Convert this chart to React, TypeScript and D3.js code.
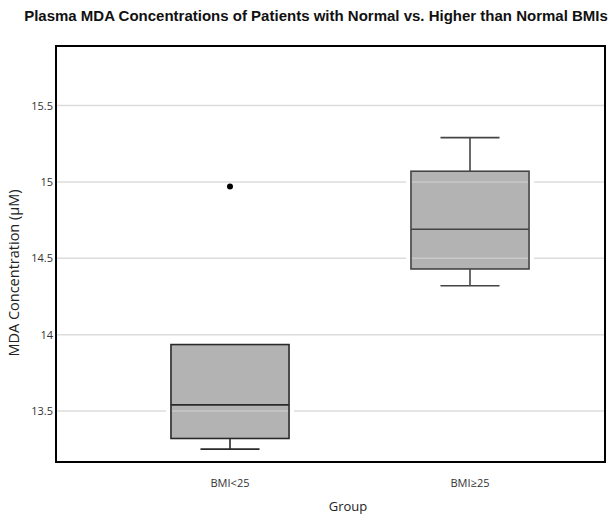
import React from "react";
import * as d3 from "d3";

// Groups and their box-plot summaries (µM)
const groups = ["BMI<25", "BMI≥25"];
const q1 = [13.32, 14.43];
const median = [13.54, 14.69];
const q3 = [13.935, 15.07];
const whiskerLow = [13.25, 14.32];
const whiskerHigh = [13.935, 15.29];
const outliers: [string, number][] = [["BMI<25", 14.97]];

const yTicks = [13.5, 14, 14.5, 15, 15.5];
const yDomain: [number, number] = [13.166, 15.89];

const title = "Plasma MDA Concentrations of Patients with Normal vs. Higher than Normal BMIs";
const yTitle = "MDA Concentration (µM)";
const xTitle = "Group";

const W = 613;
const H = 516;
const plot = { left: 56, right: 605, top: 46, bottom: 462 };
const sans = "'Open Sans', 'Noto Sans', sans-serif";

export default function App() {
  const y = d3.scaleLinear().domain(yDomain).range([plot.bottom, plot.top]);
  const x = d3
    .scaleBand<string>()
    .domain(groups)
    .range([110, 590])
    .paddingInner(0.508)
    .paddingOuter(0.254);
  const bw = x.bandwidth();
  const gap = 5;

  // gridline segments skip the area right around each box
  const gridSegments = (v: number) => {
    const yy = y(v);
    const segs: [number, number][] = [];
    let start = plot.left;
    groups.forEach((g, i) => {
      const x0 = x(g)!;
      const x1 = x0 + bw;
      if (yy >= y(q3[i]) - gap && yy <= y(q1[i]) + gap) {
        segs.push([start, x0 - gap]);
        start = x1 + gap;
      }
    });
    segs.push([start, plot.right]);
    return segs;
  };

  return (
    <svg
      width={W}
      height={H}
      style={{ position: "absolute", left: 0, top: 0, display: "block", background: "#fff" }}
    >
      <text
        x={316}
        y={21}
        textAnchor="middle"
        fontFamily="'Liberation Sans', Arial, sans-serif"
        fontWeight="bold"
        fontSize={15}
        fill="#111"
      >
        {title}
      </text>

      {/* gridlines */}
      {yTicks.map((t) =>
        gridSegments(t).map(([a, b], k) => (
          <line key={`${t}-${k}`} x1={a} x2={b} y1={y(t)} y2={y(t)} stroke="#dcdcdc" strokeWidth={1.5} />
        ))
      )}

      {/* boxes */}
      {groups.map((g, i) => {
        const x0 = x(g)!;
        const cx = x0 + bw / 2;
        const capW = bw / 2;
        const stroke = i === 0 ? "#2a2a2a" : "#444";
        return (
          <g key={g}>
            {whiskerHigh[i] > q3[i] && (
              <>
                <line x1={cx} x2={cx} y1={y(q3[i])} y2={y(whiskerHigh[i])} stroke={stroke} strokeWidth={1.6} />
                <line x1={cx - capW / 2} x2={cx + capW / 2} y1={y(whiskerHigh[i])} y2={y(whiskerHigh[i])} stroke={stroke} strokeWidth={1.6} />
              </>
            )}
            <line x1={cx} x2={cx} y1={y(q1[i])} y2={y(whiskerLow[i])} stroke={stroke} strokeWidth={1.6} />
            <line x1={cx - capW / 2} x2={cx + capW / 2} y1={y(whiskerLow[i])} y2={y(whiskerLow[i])} stroke={stroke} strokeWidth={1.6} />
            <rect
              x={x0}
              y={y(q3[i])}
              width={bw}
              height={y(q1[i]) - y(q3[i])}
              fill="#b3b3b3"
              stroke={stroke}
              strokeWidth={1.6}
            />
            {/* faint gridlines through the box */}
            {yTicks
              .filter((t) => t > q1[i] && t < q3[i])
              .map((t) => (
                <line key={t} x1={x0 + 1} x2={x0 + bw - 1} y1={y(t)} y2={y(t)} stroke="#c9c9c9" strokeWidth={1.5} />
              ))}
            <line x1={x0} x2={x0 + bw} y1={y(median[i])} y2={y(median[i])} stroke={stroke} strokeWidth={1.6} />
          </g>
        );
      })}

      {/* outliers */}
      {outliers.map(([g, v], k) => (
        <circle key={k} cx={x(g)! + bw / 2} cy={y(v)} r={3} fill="#000" />
      ))}

      {/* frame */}
      <rect
        x={plot.left}
        y={plot.top}
        width={plot.right - plot.left}
        height={plot.bottom - plot.top}
        fill="none"
        stroke="#000"
        strokeWidth={2}
      />

      {/* y tick labels */}
      {yTicks.map((t) => (
        <text key={t} x={53} y={y(t) + 4} textAnchor="end" fontFamily={sans} fontSize={11} fill="#333">
          {d3.format("~g")(t)}
        </text>
      ))}

      {/* x tick labels */}
      {groups.map((g) => (
        <text key={g} x={x(g)! + bw / 2} y={487} textAnchor="middle" fontFamily={sans} fontSize={11} fill="#333">
          {g}
        </text>
      ))}

      <text x={348} y={511} textAnchor="middle" fontFamily={sans} fontSize={13} fill="#222">
        {xTitle}
      </text>
      <text
        transform={`translate(19, 273) rotate(-90)`}
        textAnchor="middle"
        fontFamily={sans}
        fontSize={14.5}
        fill="#222"
      >
        {yTitle}
      </text>
    </svg>
  );
}
